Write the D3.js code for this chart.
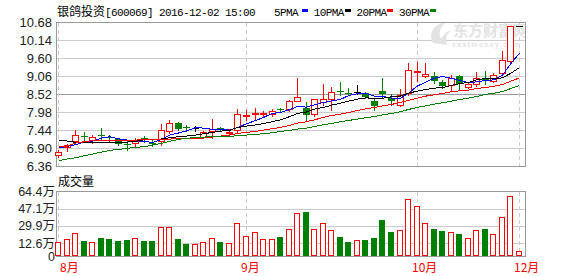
<!DOCTYPE html>
<html>
<head>
<meta charset="utf-8">
<script src="https://cdn.jsdelivr.net/npm/d3@7"></script>
<style>
  body { margin: 0; background: #fff; }
  svg { display: block; }
</style>
</head>
<body>
<svg id="chart" width="578" height="276"></svg>
<script>
// daily candles, 2016-08-01 .. 2016-12-02 (55 trading days shown)
var opens  = [6.69, 6.92, 7.10, 7.26, 7.14, 7.29, 7.22, 7.16, 7.03, 7.04,
              7.20, 7.05, 7.12, 7.42, 7.66, 7.53, 7.49, 7.22, 7.42, 7.50,
              7.34, 7.44, 7.87, 7.92, 7.93, 7.92, 8.06, 8.07, 8.32, 8.09,
              7.92, 8.29, 8.36, 8.61, 8.56, 8.57, 8.54, 8.32, 8.62, 8.39,
              8.20, 8.55, 9.18, 9.07, 9.07, 8.89, 8.79, 9.06, 8.74, 8.82,
              8.99, 8.92, 9.16, 9.52, 10.56];
var highs  = [6.84, 7.02, 7.44, 7.37, 7.29, 7.49, 7.29, 7.19, 7.11, 7.19,
              7.27, 7.15, 7.62, 7.74, 7.68, 7.59, 7.57, 7.40, 7.77, 7.54,
              7.48, 8.07, 8.04, 8.09, 8.01, 8.06, 8.09, 8.33, 9.02, 8.27,
              8.38, 8.82, 8.74, 8.88, 8.69, 8.79, 8.58, 8.41, 9.00, 8.53,
              8.66, 9.47, 9.48, 9.47, 9.19, 8.94, 9.09, 9.11, 8.89, 9.18,
              9.21, 9.17, 9.83, 10.56, 10.56];
var lows   = [6.63, 6.82, 7.03, 7.12, 7.05, 7.14, 7.08, 6.98, 6.84, 6.95,
              7.09, 6.95, 6.98, 7.36, 7.45, 7.41, 7.40, 7.19, 7.20, 7.40,
              7.26, 7.39, 7.75, 7.77, 7.85, 7.85, 7.98, 8.02, 8.32, 7.74,
              7.87, 8.18, 8.03, 8.50, 8.49, 8.51, 8.40, 8.05, 8.42, 8.19,
              8.15, 8.50, 8.92, 9.05, 8.86, 8.69, 8.64, 8.64, 8.69, 8.76,
              8.82, 8.89, 9.14, 9.50, 10.56];
var closes = [6.79, 6.99, 7.29, 7.22, 7.24, 7.26, 7.19, 7.01, 7.00, 7.14,
              7.17, 7.02, 7.44, 7.66, 7.48, 7.50, 7.49, 7.37, 7.47, 7.47,
              7.39, 7.91, 7.90, 7.95, 7.95, 8.01, 8.04, 8.31, 8.42, 7.89,
              8.36, 8.36, 8.59, 8.58, 8.53, 8.57, 8.44, 8.16, 8.53, 8.30,
              8.50, 9.25, 9.21, 9.12, 8.91, 8.76, 9.02, 8.84, 8.82, 9.02,
              8.96, 9.09, 9.56, 10.56, 10.56];

// volume, in 万
var volumes = [13.6, 16.6, 22.6, 14.9, 13.6, 17.9, 16.9, 14.9, 15.9, 17.6,
               14.9, 14.9, 28.6, 28.6, 16.9, 12.0, 11.6, 13.6, 17.6, 13.9,
               12.6, 32.5, 19.6, 23.6, 16.6, 16.6, 18.9, 26.6, 42.5, 43.8,
               26.6, 32.5, 25.6, 18.9, 13.9, 15.6, 15.9, 17.9, 35.9, 23.9,
               25.6, 56.4, 49.5, 32.5, 26.9, 24.9, 23.6, 21.9, 17.6, 25.6,
               26.9, 21.6, 38.5, 59.4, 4.6];

// moving averages
var ma5  = [6.90, 6.95, 7.00, 7.08, 7.11, 7.20, 7.24, 7.18, 7.14, 7.12,
            7.10, 7.07, 7.15, 7.29, 7.35, 7.42, 7.51, 7.50, 7.46, 7.46,
            7.44, 7.52, 7.63, 7.72, 7.82, 7.94, 7.97, 8.05, 8.15, 8.13,
            8.20, 8.27, 8.32, 8.36, 8.48, 8.53, 8.54, 8.46, 8.45, 8.40,
            8.39, 8.55, 8.76, 8.88, 9.00, 9.05, 9.00, 8.93, 8.87, 8.89,
            8.93, 8.95, 9.09, 9.44, 9.75];
var ma10 = [7.14, 7.11, 7.07, 7.06, 7.06, 7.06, 7.06, 7.06, 7.08, 7.10,
            7.15, 7.15, 7.17, 7.21, 7.24, 7.26, 7.29, 7.33, 7.37, 7.41,
            7.43, 7.52, 7.56, 7.59, 7.64, 7.69, 7.75, 7.84, 7.94, 7.98,
            8.07, 8.12, 8.19, 8.25, 8.31, 8.37, 8.41, 8.39, 8.40, 8.44,
            8.46, 8.55, 8.61, 8.66, 8.70, 8.72, 8.78, 8.84, 8.87, 8.95,
            8.99, 8.98, 9.01, 9.15, 9.32];
var ma20 = [6.94, 6.96, 7.05, 7.09, 7.12, 7.13, 7.14, 7.14, 7.14, 7.14,
            7.15, 7.15, 7.16, 7.17, 7.18, 7.18, 7.18, 7.20, 7.23, 7.26,
            7.29, 7.34, 7.37, 7.40, 7.44, 7.48, 7.52, 7.58, 7.65, 7.69,
            7.75, 7.82, 7.88, 7.92, 7.97, 8.03, 8.08, 8.12, 8.17, 8.21,
            8.27, 8.33, 8.40, 8.46, 8.50, 8.54, 8.59, 8.62, 8.64, 8.69,
            8.72, 8.76, 8.81, 8.91, 9.01];
var ma30 = [6.52, 6.57, 6.61, 6.67, 6.72, 6.78, 6.83, 6.86, 6.89, 6.92,
            6.94, 6.99, 7.04, 7.10, 7.16, 7.19, 7.22, 7.23, 7.24, 7.24,
            7.25, 7.27, 7.29, 7.31, 7.33, 7.36, 7.40, 7.43, 7.47, 7.50,
            7.55, 7.60, 7.64, 7.69, 7.73, 7.77, 7.81, 7.85, 7.90, 7.94,
            7.99, 8.06, 8.12, 8.17, 8.22, 8.26, 8.31, 8.36, 8.40, 8.45,
            8.51, 8.55, 8.60, 8.69, 8.78];

var priceTicks = [6.36, 6.90, 7.44, 7.98, 8.52, 9.06, 9.60, 10.14, 10.68];
var volumeTicks = [0, 12.6, 29.9, 47.1, 64.4];
var volumeTickLabels = ['0', '12.6万', '29.9万', '47.1万', '64.4万'];
var monthIndex = [0, 22, 42, 54];
var monthLabels = ['8月', '9月', '10月', '12月'];
var maNames = ['5PMA', '10PMA', '20PMA', '30PMA'];
var maColors = ['#0000ff', '#000000', '#ff0000', '#008000'];

var svg = d3.select('#chart');
var left = 56, right = 525,
    priceTop = 22.3, priceBottom = 166,
    volTop = 191.3, volBottom = 256;
var up = '#ff0000', down = '#008000';
var latin = 'Liberation Sans, Arial, sans-serif',
    mono = 'Liberation Mono, DejaVu Sans Mono, monospace',
    cjk = 'Noto Sans CJK SC, sans-serif';

var x = d3.scalePoint()
          .domain(d3.range(closes.length))
          .range([58.3, 519]);
var cx = function(i){ return Math.round(x(i)); };

var y = d3.scaleLinear()
          .domain([6.36, 10.68])
          .range([priceBottom, priceTop]);

var yv = d3.scaleLinear()
           .domain([0, 64.4])
           .range([volBottom, volTop]);

var px = function(v){ return Math.round(v) + 0.5; };

// ---- title + legend
var title = svg.append('text')
  .attr('x', 57)
  .attr('y', 15.5)
  .attr('fill', '#000');
title.append('tspan')
  .attr('font-family', cjk)
  .attr('font-size', 12)
  .text('银鸽投资');
title.append('tspan')
  .attr('font-family', mono)
  .attr('font-size', 11)
  .attr('letter-spacing', -0.6)
  .text('[600069] 2016-12-02 15:00');

var legend = svg.append('g');
maNames.forEach(function(name, k){
  var lx = 271 + k * 42.7;
  legend.append('text')
    .attr('x', lx + (name.length === 4 ? 3 : 0))
    .attr('y', 15.5)
    .attr('font-family', mono)
    .attr('font-size', 11)
    .attr('letter-spacing', -0.6)
    .attr('fill', '#000')
    .text(name);
  legend.append('rect')
    .attr('x', Math.round(lx + 31))
    .attr('y', 9)
    .attr('width', 6)
    .attr('height', 3)
    .attr('fill', maColors[k]);
});

// ---- price panel grid
var priceGrid = svg.append('g').attr('shape-rendering', 'crispEdges');
priceGrid.selectAll('line')
  .data(priceTicks)
  .enter().append('line')
  .attr('x1', left).attr('x2', right + 1)
  .attr('y1', function(d){ return px(y(d)); })
  .attr('y2', function(d){ return px(y(d)); })
  .attr('stroke', function(d, i){
    return (i === 0 || i === priceTicks.length - 1 || d === 8.52) ? '#999' : '#ccc';
  });

// ---- volume panel grid
var volGrid = svg.append('g').attr('shape-rendering', 'crispEdges');
volGrid.selectAll('line')
  .data(volumeTicks)
  .enter().append('line')
  .attr('x1', left).attr('x2', right + 1)
  .attr('y1', function(d){ return px(yv(d)); })
  .attr('y2', function(d){ return px(yv(d)); })
  .attr('stroke', function(d, i){
    return (i === 0 || i === volumeTicks.length - 1) ? '#999' : '#ccc';
  });

// month separators (dashed)
[[priceTop, priceBottom], [volTop, volBottom]].forEach(function(span){
  svg.append('g')
    .attr('shape-rendering', 'crispEdges')
    .selectAll('line')
    .data(monthIndex)
    .enter().append('line')
    .attr('x1', function(d){ return cx(d) + 0.5; })
    .attr('x2', function(d){ return cx(d) + 0.5; })
    .attr('y1', span[0] + 1)
    .attr('y2', span[1])
    .attr('stroke', '#ccc')
    .attr('stroke-dasharray', '4,3');
});

// panel side borders
[[priceTop, priceBottom], [volTop, volBottom]].forEach(function(span){
  svg.append('g')
    .attr('shape-rendering', 'crispEdges')
    .selectAll('line')
    .data([left, right])
    .enter().append('line')
    .attr('x1', function(d){ return d + 0.5; })
    .attr('x2', function(d){ return d + 0.5; })
    .attr('y1', px(span[0]))
    .attr('y2', px(span[1]))
    .attr('stroke', '#999');
});

// ---- watermark
svg.append('clipPath').attr('id', 'plotClip')
  .append('rect')
  .attr('x', left + 1).attr('y', priceTop + 1)
  .attr('width', right - left - 1).attr('height', priceBottom - priceTop - 1);

var mark = svg.append('g').attr('clip-path', 'url(#plotClip)').attr('fill', '#e3e3e3');
mark.append('path')
  .attr('d', 'M433,43 C428,34 433,24 446,22 C440,27 438,33 441,39 C443,35 447,31 451,30 C446,35 445,40 447,45 Z');
mark.append('text')
  .attr('x', 453).attr('y', 36)
  .attr('font-family', cjk)
  .attr('font-size', 15)
  .attr('font-weight', 'bold')
  .text('东方财富网');
mark.append('text')
  .attr('x', 452).attr('y', 47)
  .attr('font-family', latin)
  .attr('font-size', 7)
  .attr('font-weight', 'bold')
  .attr('letter-spacing', 1.3)
  .text('eastmoney.com');

// ---- candles
var candles = svg.append('g').attr('shape-rendering', 'crispEdges');
var kind = function(i){
  if (closes[i] > opens[i]) return 'up';
  if (closes[i] < opens[i]) return 'down';
  return 'flat';
};
var candleColor = function(i){
  var k = kind(i);
  return k === 'up' ? up : (k === 'down' ? down : '#000');
};

candles.selectAll('line.wick')
  .data(d3.range(closes.length))
  .enter().append('line')
  .attr('class', 'wick')
  .attr('x1', function(i){ return cx(i) + 0.5; })
  .attr('x2', function(i){ return cx(i) + 0.5; })
  .attr('y1', function(i){ return Math.round(y(highs[i])); })
  .attr('y2', function(i){ return Math.round(y(lows[i])) + 1; })
  .attr('stroke', candleColor);

candles.selectAll('rect.body')
  .data(d3.range(closes.length).filter(function(i){ return kind(i) !== 'flat'; }))
  .enter().append('rect')
  .attr('class', 'body')
  .attr('x', function(i){ return kind(i) === 'up' ? cx(i) - 2.5 : cx(i) - 3; })
  .attr('y', function(i){
    var top = Math.round(y(Math.max(opens[i], closes[i])));
    return kind(i) === 'up' ? top + 0.5 : top;
  })
  .attr('width', function(i){ return kind(i) === 'up' ? 6 : 7; })
  .attr('height', function(i){
    var h = Math.round(y(Math.min(opens[i], closes[i]))) - Math.round(y(Math.max(opens[i], closes[i])));
    return Math.max(1, h);
  })
  .attr('fill', function(i){ return kind(i) === 'up' ? '#fff' : down; })
  .attr('stroke', function(i){ return kind(i) === 'up' ? up : 'none'; });

candles.selectAll('line.doji')
  .data(d3.range(closes.length).filter(function(i){ return kind(i) === 'flat'; }))
  .enter().append('line')
  .attr('class', 'doji')
  .attr('x1', function(i){ return cx(i) - 3; })
  .attr('x2', function(i){ return cx(i) + 4; })
  .attr('y1', function(i){ return px(y(closes[i])); })
  .attr('y2', function(i){ return px(y(closes[i])); })
  .attr('stroke', '#000');

// ---- moving averages
var maLine = d3.line()
  .x(function(d, i){ return x(i) + 0.5; })
  .y(function(d){ return y(d); });

[ma5, ma10, ma20, ma30].forEach(function(series, k){
  svg.append('path')
    .datum(series)
    .attr('fill', 'none')
    .attr('stroke', maColors[k])
    .attr('stroke-width', 1)
    .attr('shape-rendering', 'crispEdges')
    .attr('d', maLine);
});

// ---- volume bars
var isUpDay = function(i){ return closes[i] >= opens[i]; };
svg.append('g')
  .attr('shape-rendering', 'crispEdges')
  .selectAll('rect')
  .data(volumes)
  .enter().append('rect')
  .attr('x', function(d, i){ return isUpDay(i) ? cx(i) - 2.5 : cx(i) - 3; })
  .attr('y', function(d, i){ return isUpDay(i) ? Math.round(yv(d)) + 0.5 : Math.round(yv(d)); })
  .attr('width', function(d, i){ return isUpDay(i) ? 5 : 6; })
  .attr('height', function(d, i){
    var h = Math.round(yv(0)) - Math.round(yv(d));
    return isUpDay(i) ? h - 1 : h;
  })
  .attr('fill', function(d, i){ return isUpDay(i) ? '#fff' : down; })
  .attr('stroke', function(d, i){ return isUpDay(i) ? up : 'none'; });

// ---- axes (labels only)
var priceAxis = d3.axisLeft(y)
  .tickValues(priceTicks)
  .tickFormat(d3.format('.2f'))
  .tickSize(0)
  .tickPadding(4);

svg.append('g')
  .attr('transform', 'translate(' + left + ',0)')
  .call(priceAxis)
  .call(function(g){ g.select('.domain').remove(); })
  .selectAll('text')
  .attr('font-family', latin)
  .attr('font-size', 13)
  .attr('fill', '#222');

var volumeAxis = d3.axisLeft(yv)
  .tickValues(volumeTicks)
  .tickFormat(function(d, i){ return volumeTickLabels[i]; })
  .tickSize(0)
  .tickPadding(1);

svg.append('g')
  .attr('transform', 'translate(' + left + ',0)')
  .call(volumeAxis)
  .call(function(g){ g.select('.domain').remove(); })
  .selectAll('text')
  .attr('font-family', latin + ', ' + cjk)
  .attr('font-size', 12.5)
  .attr('fill', '#222');

svg.append('text')
  .attr('x', 58)
  .attr('y', 186)
  .attr('font-family', cjk)
  .attr('font-size', 12)
  .attr('fill', '#000')
  .text('成交量');

// month labels under the volume panel
svg.append('g')
  .selectAll('text')
  .data(monthIndex)
  .enter().append('text')
  .attr('x', function(d){ return Math.max(60, cx(d) - 5); })
  .attr('y', 272)
  .attr('font-family', cjk)
  .attr('font-size', 12)
  .attr('fill', '#ff0000')
  .text(function(d, i){ return monthLabels[i]; });
</script>
</body>
</html>
